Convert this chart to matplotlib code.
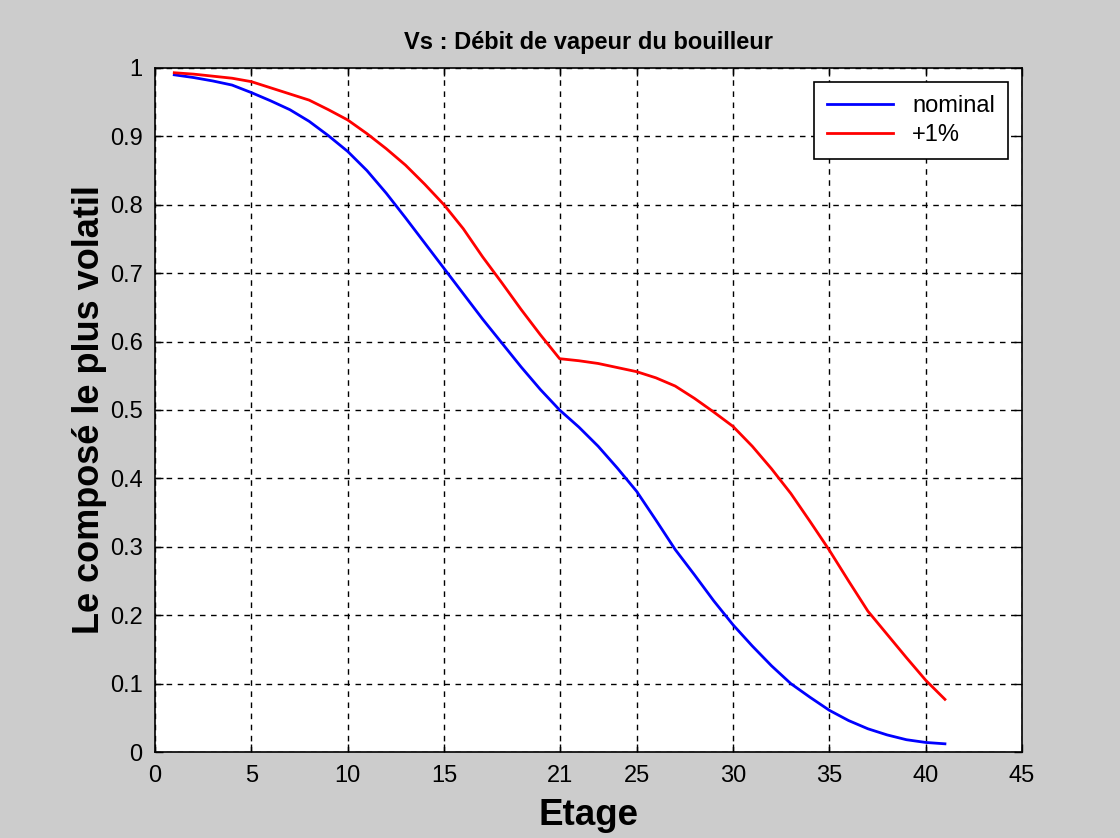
import matplotlib
matplotlib.use("Agg")
import matplotlib.pyplot as plt

plt.rcParams['font.family'] = ['Liberation Sans', 'DejaVu Sans']

# Etages de la colonne
etages = list(range(1, 42))

# Composition du plus volatil - cas nominal
nominal = [0.990, 0.986, 0.981, 0.975, 0.964, 0.952, 0.939, 0.922, 0.901, 0.878,
           0.850, 0.817, 0.781, 0.744, 0.707, 0.670, 0.633, 0.598, 0.563, 0.530,
           0.500, 0.475, 0.447, 0.415, 0.381, 0.339, 0.296, 0.259, 0.221, 0.186,
           0.155, 0.126, 0.100, 0.080, 0.061, 0.046, 0.034, 0.025, 0.018, 0.014,
           0.012]

# Composition avec Vs +1%
plus1 = [0.993, 0.991, 0.988, 0.985, 0.980, 0.971, 0.962, 0.953, 0.939, 0.924,
         0.904, 0.882, 0.858, 0.830, 0.800, 0.765, 0.724, 0.686, 0.647, 0.610,
         0.575, 0.572, 0.568, 0.562, 0.556, 0.547, 0.535, 0.517, 0.497, 0.476,
         0.447, 0.414, 0.378, 0.337, 0.295, 0.250, 0.206, 0.172, 0.138, 0.105,
         0.077]

xticks = [0, 5, 10, 15, 21, 25, 30, 35, 40, 45]
yticks = [0, 0.1, 0.2, 0.3, 0.4, 0.5, 0.6, 0.7, 0.8, 0.9, 1]
ytick_labels = ['0', '0.1', '0.2', '0.3', '0.4', '0.5', '0.6', '0.7', '0.8', '0.9', '1']

fig = plt.figure(figsize=(11.2, 8.38), dpi=100, facecolor='#cccccc')
ax = fig.add_axes([0.1384, 0.1026, 0.7741, 0.8163])

ax.plot(etages, nominal, color='blue', linewidth=2, label='nominal')
ax.plot(etages, plus1, color='red', linewidth=2, label='+1%')

ax.set_xlim(0, 45)
ax.set_ylim(0, 1)
ax.set_xticks(xticks)
ax.set_yticks(yticks)
ax.set_yticklabels(ytick_labels)
ax.tick_params(direction='in', length=6, width=1, labelsize=17, pad=9,
               top=True, right=True)
ax.grid(True, color='black', linestyle=(0, (4, 4)), linewidth=1)
for s in ax.spines.values():
    s.set_linewidth(1.2)

ax.set_title('Vs : Débit de vapeur du bouilleur', fontsize=17, fontweight='bold', pad=14)
ax.set_xlabel('Etage', fontsize=26.5, fontweight='bold', labelpad=8)
ax.set_ylabel('Le composé le plus volatil', fontsize=26, fontweight='bold', labelpad=2)

leg = ax.legend(loc='upper right', fontsize=17, fancybox=False, framealpha=1,
                edgecolor='black', handlelength=2.8, borderaxespad=0.6,
                labelspacing=0.3, borderpad=0.55)
leg.get_frame().set_linewidth(1.2)

fig.savefig('out.png', dpi=100, facecolor=fig.get_facecolor())
